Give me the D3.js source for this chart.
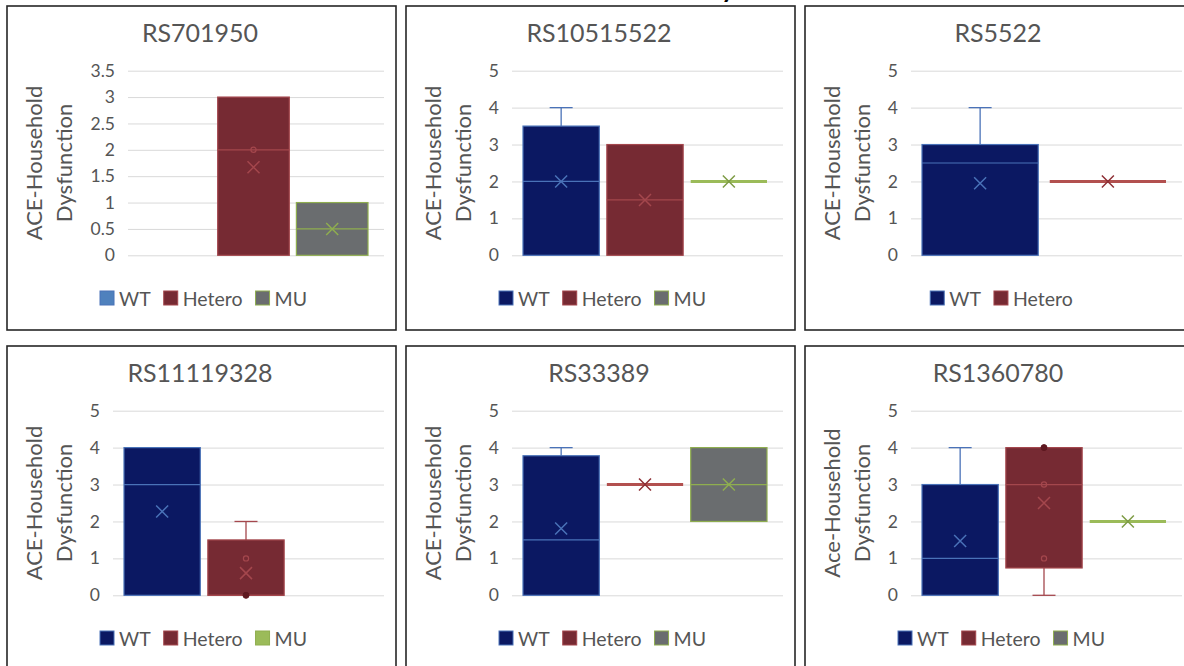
<!DOCTYPE html>
<html><head><meta charset="utf-8">
<script src="https://cdn.jsdelivr.net/npm/d3@7"></script>
<style>
body{margin:0;background:#fff}
svg{display:block}
text{font-family:Lato,"Open Sans",sans-serif}
</style></head>
<body><svg id="c" width="1184" height="666"></svg>
<script>
// ---------------- DATA ----------------
const panelIds = ["RS701950","RS10515522","RS5522","RS11119328","RS33389","RS1360780"];
const yTitleLine1 = ["ACE-Household","ACE-Household","ACE-Household","ACE-Household","ACE-Household","Ace-Household"];
const yTitleLine2 = ["Dysfunction","Dysfunction","Dysfunction","Dysfunction","Dysfunction","Dysfunction"];
const tickValues = [
  [0,0.5,1,1.5,2,2.5,3,3.5],
  [0,1,2,3,4,5],[0,1,2,3,4,5],[0,1,2,3,4,5],[0,1,2,3,4,5],[0,1,2,3,4,5]
];
const seriesNames = [
  ["WT","Hetero","MU"],["WT","Hetero","MU"],["WT","Hetero"],
  ["WT","Hetero","MU"],["WT","Hetero","MU"],["WT","Hetero","MU"]
];
// box-plot statistics per panel, per series (null = no data)
const minVals  = [[null,0,0],[0,0,2],[0,2],[0,0,null],[0,3,2],[0,0,2]];
const q1Vals   = [[null,0,0],[0,0,2],[0,2],[0,0,null],[0,3,2],[0,0.74,2]];
const medVals  = [[null,2,0.5],[2,1.5,2],[2.5,2],[3,0,null],[1.5,3,3],[1,3,2]];
const q3Vals   = [[null,3,1],[3.5,3,2],[3,2],[4,1.5,null],[3.78,3,4],[3,4,2]];
const maxVals  = [[null,3,1],[4,3,2],[4,2],[4,2,null],[4,3,4],[4,4,2]];
const meanVals = [[null,1.67,0.5],[2,1.5,2],[1.95,2],[2.27,0.6,null],[1.81,3,3],[1.47,2.5,2]];
const innerPts = [[[],[2],[]],[[],[],[]],[[],[]],[[],[1],[]],[[],[],[]],[[],[3,1],[]]];
const outlierPts = [[[],[],[]],[[],[],[]],[[],[]],[[],[0],[]],[[],[],[]],[[],[4],[]]];

// ---------------- STYLES ----------------
const boxFill   = {WT:"#0b1862", Hetero:"#762a33", MU:"#6a6d6f"};
const boxStroke = {WT:"#4a72b8", Hetero:"#a4474d", MU:"#8fae4f"};
const flatLine  = {WT:"#4a72b8", Hetero:"#b2504f", MU:"#9bbb59"};
const legendFill = [
  {WT:"#4f81bd",Hetero:"#762a33",MU:"#6a6d6f"},
  {WT:"#0b1862",Hetero:"#762a33",MU:"#6a6d6f"},
  {WT:"#0b1862",Hetero:"#762a33"},
  {WT:"#0b1862",Hetero:"#762a33",MU:"#9bbb59"},
  {WT:"#0b1862",Hetero:"#762a33",MU:"#6a6d6f"},
  {WT:"#0b1862",Hetero:"#762a33",MU:"#6a6d6f"}
];
const legendStroke = {WT:"#4a72b8",Hetero:"#a4474d",MU:"#8fae4f"};
const textCol = "#555555";

// ---------------- DRAW ----------------
const svg = d3.select("#c");
const colX = [7,406,805], rowY = [6,346], panelW = 389, panelH = [324,340];

// partial main title visible at the very top (cut off in the reference too)
svg.append("text").attr("x",728).attr("y",-2).attr("text-anchor","middle")
  .attr("font-size",26).attr("font-weight","bold").attr("fill","#000").text("y");

panelIds.forEach((pid,i)=>{
  const r = Math.floor(i/3), c = i%3;
  const px = colX[c], py = rowY[r];
  const g = svg.append("g");
  g.append("rect").attr("x",px).attr("y",py).attr("width",panelW).attr("height",panelH[r])
    .attr("fill","#fff").attr("stroke","#262626").attr("stroke-width",1.6);

  const ticks = tickValues[i];
  const yMax = d3.max(ticks);
  const hasDec = ticks.some(t=>t%1!==0);
  const plotL = px + (hasDec?121:106), plotR = px + 377;
  const y = d3.scaleLinear().domain([0,yMax]).range([py+249.3, py+64.7]);
  const series = seriesNames[i];
  const x = d3.scaleBand().domain(series).range([plotL+11, plotR-16]).paddingInner(0.09);
  const bw = x.bandwidth();

  // title
  g.append("text").attr("x",px+193).attr("y",py+36).attr("text-anchor","middle")
    .attr("font-size",25).attr("fill",textCol).text(pid);

  // gridlines
  const grid = g.append("g").attr("transform",`translate(${plotL},0)`)
    .call(d3.axisLeft(y).tickValues(ticks).tickSize(-(plotR-plotL)).tickFormat(""));
  grid.select(".domain").remove();
  grid.selectAll(".tick line").attr("stroke","#d9d9d9").attr("stroke-width",1);

  // y axis labels
  const ax = g.append("g").attr("transform",`translate(${plotL},0)`)
    .call(d3.axisLeft(y).tickValues(ticks).tickSize(0).tickPadding(13).tickFormat(d=>String(d)));
  ax.select(".domain").remove();
  ax.selectAll("text").attr("font-size",17.5).attr("fill",textCol)
    .style("font-family","Lato, 'Open Sans', sans-serif");

  // y axis title
  const cy = (y(0)+y(yMax))/2;
  [[yTitleLine1[i],26],[yTitleLine2[i],56]].forEach(([t,dx])=>{
    g.append("text").attr("transform",`translate(${px+dx},${cy}) rotate(-90)`)
      .attr("text-anchor","middle").attr("dominant-baseline","central")
      .attr("font-size",22).attr("fill",textCol).text(t);
  });

  // boxes
  series.forEach((s,j)=>{
    const q1 = q1Vals[i][j];
    if(q1===null || q1===undefined) return;
    const q3 = q3Vals[i][j], mn = minVals[i][j], mx = maxVals[i][j], md = medVals[i][j], mean = meanVals[i][j];
    const x0 = x(s), cx = x0 + bw/2;
    const sc = boxStroke[s];
    // whiskers
    if(mx>q3){
      g.append("line").attr("x1",cx).attr("x2",cx).attr("y1",y(q3)).attr("y2",y(mx)).attr("stroke",sc).attr("stroke-width",1.3);
      g.append("line").attr("x1",cx-11.5).attr("x2",cx+11.5).attr("y1",y(mx)).attr("y2",y(mx)).attr("stroke",sc).attr("stroke-width",1.3);
    }
    if(mn<q1){
      g.append("line").attr("x1",cx).attr("x2",cx).attr("y1",y(q1)).attr("y2",y(mn)).attr("stroke",sc).attr("stroke-width",1.3);
      g.append("line").attr("x1",cx-11.5).attr("x2",cx+11.5).attr("y1",y(mn)).attr("y2",y(mn)).attr("stroke",sc).attr("stroke-width",1.3);
    }
    if(q3>q1){
      g.append("rect").attr("x",x0).attr("y",y(q3)).attr("width",bw).attr("height",y(q1)-y(q3))
        .attr("fill",boxFill[s]).attr("stroke",sc).attr("stroke-width",1.2);
      g.append("line").attr("x1",x0).attr("x2",x0+bw).attr("y1",y(md)).attr("y2",y(md))
        .attr("stroke",sc).attr("stroke-width",1.2);
    } else {
      g.append("line").attr("x1",x0).attr("x2",x0+bw).attr("y1",y(q1)).attr("y2",y(q1))
        .attr("stroke",flatLine[s]).attr("stroke-width",3);
    }
    innerPts[i][j].forEach(v=>{
      g.append("circle").attr("cx",cx).attr("cy",y(v)).attr("r",2.6)
        .attr("fill","none").attr("stroke",sc).attr("stroke-width",1.2);
    });
    outlierPts[i][j].forEach(v=>{
      g.append("circle").attr("cx",cx).attr("cy",y(v)).attr("r",3)
        .attr("fill","#5e1820").attr("stroke","#5e1820");
    });
    // mean marker
    const my = y(mean), h = 6;
    const mc = (q3>q1) ? sc : (s==="Hetero" ? "#8e2f35" : "#7e9c45");
    g.append("path").attr("d",`M${cx-h},${my-h}L${cx+h},${my+h}M${cx-h},${my+h}L${cx+h},${my-h}`)
      .attr("stroke",mc).attr("stroke-width",1.5).attr("fill","none");
  });

  // legend
  const lg = g.append("g");
  let lx = 0;
  series.forEach(s=>{
    const it = lg.append("g").attr("transform",`translate(${lx},0)`);
    it.append("rect").attr("x",0).attr("y",-7).attr("width",14).attr("height",14)
      .attr("fill",legendFill[i][s]).attr("stroke",legendStroke[s]).attr("stroke-width",1);
    const t = it.append("text").attr("x",19).attr("y",0).attr("dominant-baseline","central")
      .attr("font-size",19.5).attr("fill",textCol).text(s);
    lx += 19 + t.node().getComputedTextLength() + 13;
  });
  const totalW = lx - 13;
  lg.attr("transform",`translate(${px+panelW/2 - totalW/2 + 2},${py+292})`);
});
</script></body></html>
